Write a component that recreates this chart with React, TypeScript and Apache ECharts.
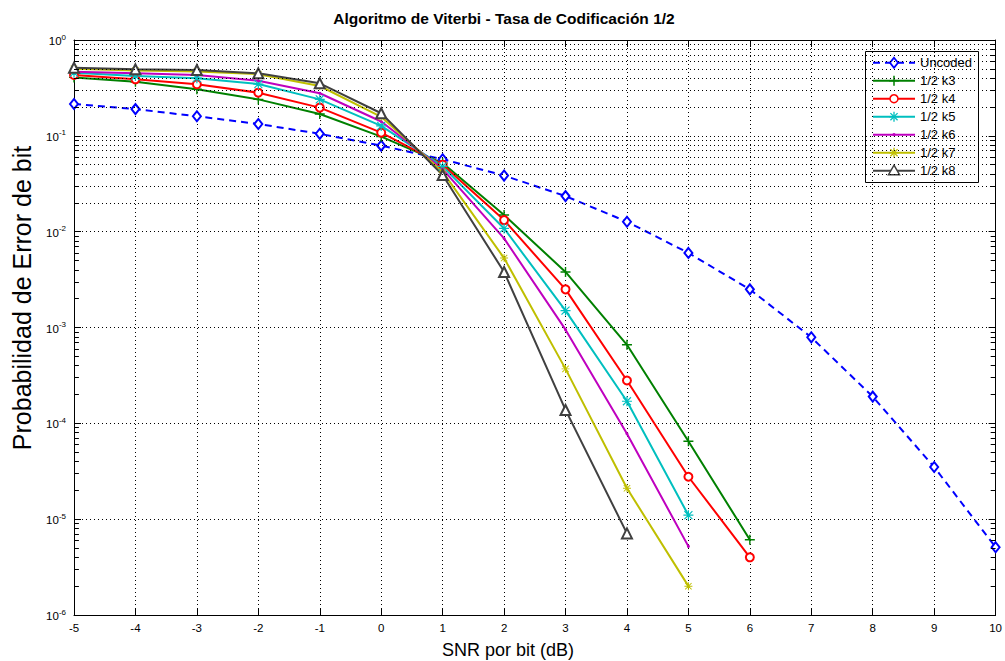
import React, { useEffect, useRef } from "react";
import * as echarts from "echarts";

const FONT = '"Liberation Sans", Arial, Helvetica, sans-serif';

const titleText = "Algoritmo de Viterbi - Tasa de Codificación 1/2";
const xName = "SNR por bit (dB)";
const yName = "Probabilidad de Error de bit";

const snr = [-5, -4, -3, -2, -1, 0, 1, 2, 3, 4, 5, 6, 7, 8, 9, 10];

const uncoded = [0.215, 0.19, 0.16, 0.133, 0.105, 0.079, 0.057, 0.0385, 0.0235, 0.0127, 0.006, 0.0025, 7.9e-4, 1.9e-4, 3.5e-5, 5.1e-6];
const k3 = [0.407, 0.367, 0.306, 0.24, 0.169, 0.098, 0.052, 0.0149, 0.0038, 6.6e-4, 6.5e-5, 6.1e-6];
const k4 = [0.431, 0.389, 0.345, 0.282, 0.197, 0.108, 0.05, 0.0132, 0.0025, 2.8e-4, 2.77e-5, 4.0e-6];
const k5 = [0.456, 0.42, 0.4, 0.347, 0.24, 0.127, 0.048, 0.0108, 0.0015, 1.7e-4, 1.1e-5];
const k6 = [0.467, 0.449, 0.431, 0.376, 0.278, 0.141, 0.045, 0.0085, 9.5e-4, 7.8e-5, 5.2e-6];
const k7 = [0.5, 0.48, 0.47, 0.44, 0.331, 0.158, 0.042, 0.0053, 3.7e-4, 2.1e-5, 2.0e-6];
const k8 = [0.514, 0.494, 0.486, 0.449, 0.353, 0.172, 0.039, 0.0038, 1.38e-4, 7.1e-6];

const seriesNames = ["Uncoded", "1/2 k3", "1/2 k4", "1/2 k5", "1/2 k6", "1/2 k7", "1/2 k8"];
const seriesColors = ["#0000ff", "#008000", "#ff0000", "#00bfbf", "#bf00bf", "#bfbf00", "#404040"];
const markerKinds = ["diamond", "plus", "circle", "star", "dot", "star", "triangle"];

const decades = [-6, -5, -4, -3, -2, -1];
const minorMult = [2, 3, 4, 5, 6, 7, 8, 9];

const PLUS = "path://M4.3,0H5.7V4.3H10V5.7H5.7V10H4.3V5.7H0V4.3H4.3Z";
const STAR =
  "path://M4.4,0H5.6V4.4H10V5.6H5.6V10H4.4V5.6H0V4.4H4.4Z M1.4,0.6L5,4.2L8.6,0.6L9.4,1.4L5.8,5L9.4,8.6L8.6,9.4L5,5.8L1.4,9.4L0.6,8.6L4.2,5L0.6,1.4Z";

function pairs(vals: number[]) {
  return vals.map((v, i) => [snr[i], v]);
}

function legendMarker(kind: string, cx: number, cy: number, color: string): any[] {
  switch (kind) {
    case "diamond":
      return [{ type: "polygon", shape: { points: [[cx, cy - 5], [cx + 4, cy], [cx, cy + 5], [cx - 4, cy]] }, style: { fill: "#fff", stroke: color, lineWidth: 1.8 } }];
    case "plus":
      return [
        { type: "line", shape: { x1: cx - 5, y1: cy, x2: cx + 5, y2: cy }, style: { stroke: color, lineWidth: 1.5 } },
        { type: "line", shape: { x1: cx, y1: cy - 5, x2: cx, y2: cy + 5 }, style: { stroke: color, lineWidth: 1.5 } },
      ];
    case "circle":
      return [{ type: "circle", shape: { cx, cy, r: 4 }, style: { fill: "#fff", stroke: color, lineWidth: 1.5 } }];
    case "star":
      return [
        { type: "line", shape: { x1: cx - 5, y1: cy, x2: cx + 5, y2: cy }, style: { stroke: color, lineWidth: 1.3 } },
        { type: "line", shape: { x1: cx, y1: cy - 5, x2: cx, y2: cy + 5 }, style: { stroke: color, lineWidth: 1.3 } },
        { type: "line", shape: { x1: cx - 3.6, y1: cy - 3.6, x2: cx + 3.6, y2: cy + 3.6 }, style: { stroke: color, lineWidth: 1.3 } },
        { type: "line", shape: { x1: cx - 3.6, y1: cy + 3.6, x2: cx + 3.6, y2: cy - 3.6 }, style: { stroke: color, lineWidth: 1.3 } },
      ];
    case "dot":
      return [{ type: "circle", shape: { cx, cy, r: 1.6 }, style: { fill: color } }];
    case "triangle":
      return [{ type: "polygon", shape: { points: [[cx, cy - 5.5], [cx + 5.5, cy + 4], [cx - 5.5, cy + 4]] }, style: { fill: "#fff", stroke: color, lineWidth: 1.5 } }];
  }
  return [];
}

export default function App() {
  const ref = useRef<HTMLDivElement>(null);
  useEffect(() => {
    if (!ref.current) return;
    const chart = echarts.init(ref.current, undefined, { renderer: "svg" });

    const minorVals: number[] = [];
    decades.forEach((d) => minorMult.forEach((m) => minorVals.push(m * Math.pow(10, d))));

    const gridLines = minorVals.map((v) => ({ yAxis: v }));
    const tickSegs: any[] = [];
    minorVals.forEach((v) => {
      tickSegs.push([{ coord: [-5, v] }, { coord: [-4.92, v] }]);
      tickSegs.push([{ coord: [9.92, v] }, { coord: [10, v] }]);
    });

    const lineCommon = {
      type: "line",
      xAxisIndex: 0,
      yAxisIndex: 0,
      showSymbol: true,
      z: 3,
    };

    const dataSeries: any[] = [
      {
        ...lineCommon,
        name: seriesNames[0],
        data: pairs(uncoded),
        symbol: "emptyDiamond",
        symbolSize: [8, 10],
        itemStyle: { color: seriesColors[0], borderWidth: 1.8 },
        lineStyle: { color: seriesColors[0], width: 2, type: [7, 5] },
      },
      {
        ...lineCommon,
        name: seriesNames[1],
        data: pairs(k3),
        symbol: PLUS,
        symbolSize: 10,
        itemStyle: { color: seriesColors[1] },
        lineStyle: { color: seriesColors[1], width: 2 },
      },
      {
        ...lineCommon,
        name: seriesNames[2],
        data: pairs(k4),
        symbol: "emptyCircle",
        symbolSize: 8,
        itemStyle: { color: seriesColors[2], borderWidth: 1.5 },
        lineStyle: { color: seriesColors[2], width: 2 },
      },
      {
        ...lineCommon,
        name: seriesNames[3],
        data: pairs(k5),
        symbol: STAR,
        symbolSize: 10,
        itemStyle: { color: seriesColors[3] },
        lineStyle: { color: seriesColors[3], width: 2 },
      },
      {
        ...lineCommon,
        name: seriesNames[4],
        data: pairs(k6),
        symbol: "circle",
        symbolSize: 3,
        itemStyle: { color: seriesColors[4] },
        lineStyle: { color: seriesColors[4], width: 2 },
      },
      {
        ...lineCommon,
        name: seriesNames[5],
        data: pairs(k7),
        symbol: STAR,
        symbolSize: 8,
        itemStyle: { color: seriesColors[5] },
        lineStyle: { color: seriesColors[5], width: 2 },
      },
      {
        ...lineCommon,
        name: seriesNames[6],
        data: pairs(k8),
        symbol: "emptyTriangle",
        symbolSize: 10,
        itemStyle: { color: seriesColors[6], borderWidth: 1.5 },
        lineStyle: { color: seriesColors[6], width: 2 },
      },
    ];

    const LX = 865, LY = 51, LW = 113, LH = 131, ROW0 = 62.7, ROWSTEP = 18;
    const legendChildren: any[] = [
      { type: "rect", shape: { x: LX + 0.5, y: LY + 0.5, width: LW, height: LH }, style: { fill: "#fff", stroke: "#000", lineWidth: 1 } },
    ];
    seriesNames.forEach((name, i) => {
      const cy = ROW0 + ROWSTEP * i;
      legendChildren.push({
        type: "line",
        shape: { x1: 873, y1: cy, x2: 915, y2: cy },
        style: { stroke: seriesColors[i], lineWidth: 2, lineDash: i === 0 ? [7, 5] : null },
      });
      legendMarker(markerKinds[i], 894, cy, seriesColors[i]).forEach((m) => legendChildren.push(m));
      legendChildren.push({
        type: "text",
        x: 920,
        y: cy,
        style: {
          text: name,
          font: `13px ${FONT}`,
          fill: "#000",
          align: "left",
          verticalAlign: "middle",
          textAlign: "left",
          textVerticalAlign: "middle",
        },
      });
    });

    const option: any = {
      animation: false,
      backgroundColor: "#ffffff",
      grid: { left: 74, right: 7, top: 40, bottom: 46, containLabel: false },
      xAxis: [
        {
          type: "value",
          min: -5,
          max: 10,
          interval: 1,
          position: "bottom",
          axisLine: { show: true, onZero: false, lineStyle: { color: "#000", width: 1 } },
          axisTick: { show: true, inside: true, length: 7, lineStyle: { color: "#000" } },
          axisLabel: { margin: 7, fontSize: 11.5, fontFamily: FONT, color: "#000" },
          splitLine: { show: true, lineStyle: { color: "#000", width: 1, type: [1, 3] } },
        },
        {
          type: "value",
          min: -5,
          max: 10,
          interval: 1,
          position: "top",
          axisLine: { show: true, onZero: false, lineStyle: { color: "#000", width: 1 } },
          axisTick: { show: true, inside: true, length: 7, lineStyle: { color: "#000" } },
          axisLabel: { show: false },
          splitLine: { show: false },
        },
      ],
      yAxis: [
        {
          type: "log",
          logBase: 10,
          min: 1e-6,
          max: 1,
          splitNumber: 6,
          position: "left",
          axisLine: { show: true, onZero: false, lineStyle: { color: "#000", width: 1 } },
          axisTick: { show: true, inside: true, length: 7, lineStyle: { color: "#000" } },
          axisLabel: {
            margin: 8,
            color: "#000",
            formatter: (v: number) => `{b|10}{s|${Math.round(Math.log10(v))}}`,
            rich: {
              b: { fontSize: 11.5, fontFamily: FONT, color: "#000", verticalAlign: "bottom" },
              s: { fontSize: 8, fontFamily: FONT, color: "#000", verticalAlign: "bottom", padding: [0, 0, 6, 0] },
            },
          },
          splitLine: { show: true, lineStyle: { color: "#000", width: 1, type: [1, 3] } },
        },
        {
          type: "log",
          logBase: 10,
          min: 1e-6,
          max: 1,
          splitNumber: 6,
          position: "right",
          axisLine: { show: true, onZero: false, lineStyle: { color: "#000", width: 1 } },
          axisTick: { show: true, inside: true, length: 7, lineStyle: { color: "#000" } },
          axisLabel: { show: false },
          splitLine: { show: false },
        },
      ],
      graphic: [
        {
          type: "text",
          x: 504,
          y: 18,
          style: {
            text: titleText,
            font: `bold 15.5px ${FONT}`,
            fill: "#000",
            align: "center",
            verticalAlign: "middle",
            textAlign: "center",
            textVerticalAlign: "middle",
          },
        },
        {
          type: "text",
          x: 22,
          y: 298,
          rotation: Math.PI / 2,
          style: {
            text: yName,
            font: `25px ${FONT}`,
            fill: "#000",
            align: "center",
            verticalAlign: "middle",
            textAlign: "center",
            textVerticalAlign: "middle",
          },
        },
        {
          type: "text",
          x: 508,
          y: 650,
          style: {
            text: xName,
            font: `18px ${FONT}`,
            fill: "#000",
            align: "center",
            verticalAlign: "middle",
            textAlign: "center",
            textVerticalAlign: "middle",
          },
        },
        { type: "group", z: 100, children: legendChildren },
      ],
      series: [
        {
          type: "line",
          name: "_grid",
          data: [],
          xAxisIndex: 0,
          yAxisIndex: 0,
          z: 1,
          silent: true,
          markLine: {
            silent: true,
            symbol: ["none", "none"],
            label: { show: false },
            lineStyle: { color: "#000", width: 1, type: [1, 3] },
            emphasis: { disabled: true },
            data: gridLines,
          },
        },
        {
          type: "line",
          name: "_ticks",
          data: [],
          xAxisIndex: 0,
          yAxisIndex: 0,
          z: 1,
          silent: true,
          markLine: {
            silent: true,
            symbol: ["none", "none"],
            label: { show: false },
            lineStyle: { color: "#000", width: 1, type: "solid" },
            emphasis: { disabled: true },
            data: tickSegs,
          },
        },
        ...dataSeries,
      ],
    };

    chart.setOption(option);
    return () => chart.dispose();
  }, []);

  return <div ref={ref} style={{ width: 1005, height: 661, position: "absolute", left: 0, top: 0 }} />;
}
